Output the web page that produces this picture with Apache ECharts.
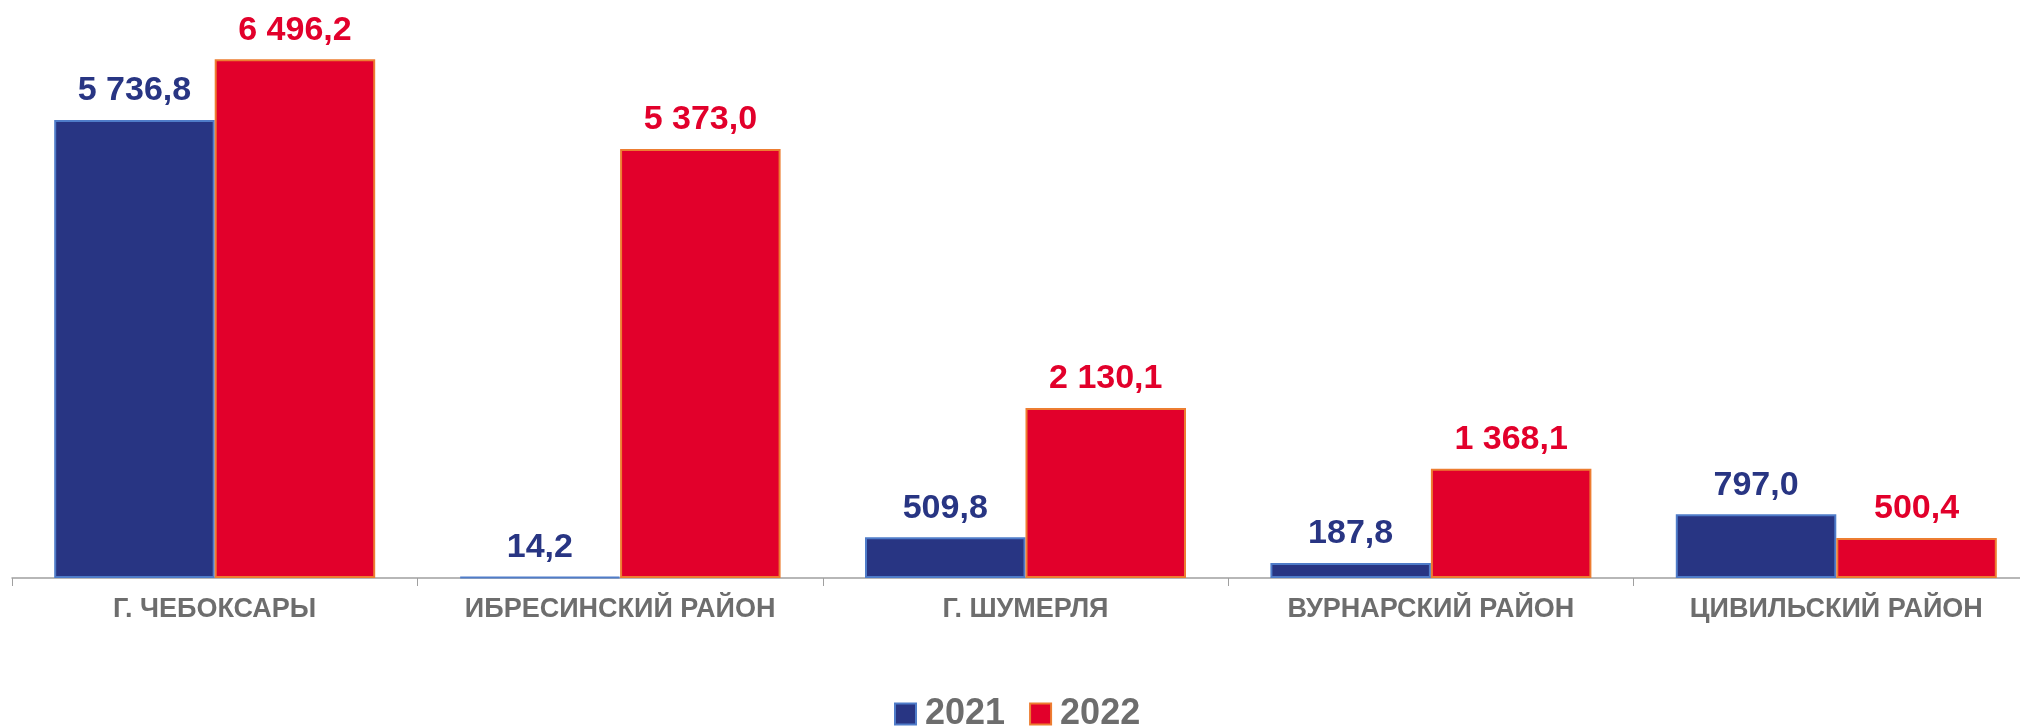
<!DOCTYPE html>
<html>
<head>
<meta charset="utf-8">
<script src="https://cdn.jsdelivr.net/npm/echarts@6/dist/echarts.min.js"></script>
<style>
  html, body { margin: 0; padding: 0; background: #fff; }
  #main { width: 2020px; height: 728px; }
</style>
</head>
<body>
<div id="main"></div>
<script>
// данные
var categories = ["Г. ЧЕБОКСАРЫ", "ИБРЕСИНСКИЙ РАЙОН", "Г. ШУМЕРЛЯ", "ВУРНАРСКИЙ РАЙОН", "ЦИВИЛЬСКИЙ РАЙОН"];
var values2021 = [5736.8, 14.2, 509.8, 187.8, 797.0];
var values2022 = [6496.2, 5373.0, 2130.1, 1368.1, 500.4];
var seriesNames = ["2021", "2022"];

var myChart = echarts.init(document.getElementById("main"));
var font = "'Liberation Sans', Arial, sans-serif";

// 5 736,8
function fmt(v) {
  var s = v.toFixed(1).split(".");
  var intPart = s[0].replace(/\B(?=(\d{3})+(?!\d))/g, " ");
  return intPart + "," + s[1];
}

var option = {
  animation: false,
  backgroundColor: "#ffffff",
  grid: {
    left: 12,
    top: 19,
    width: 2027,
    bottom: 150,
    outerBoundsMode: "none",
    containLabel: false,
  },
  legend: {
    data: seriesNames,
    left: 889,
    top: 691,
    icon: "rect",
    itemWidth: 21,
    itemHeight: 21,
    itemGap: 24,
    textStyle: {
      fontSize: 36,
      fontWeight: "bold",
      fontFamily: font,
      color: "#6d6d6d",
      padding: [0, 0, 0, 4],
    },
  },
  xAxis: {
    type: "category",
    data: categories,
    axisLine: { lineStyle: { color: "#a0a0a0", width: 1.5 } },
    axisTick: { show: true, length: 8, lineStyle: { color: "#a0a0a0" } },
    axisLabel: {
      fontSize: 27,
      fontWeight: "bold",
      fontFamily: font,
      color: "#6d6d6d",
      margin: 18,
    },
  },
  yAxis: {
    type: "value",
    min: 0,
    max: 7000,
    show: false,
    splitLine: { show: false },
  },
  series: [
    {
      name: seriesNames[0],
      type: "bar",
      data: values2021,
      barWidth: 160.5,
      barGap: "0%",
      itemStyle: {
        color: "#283583",
        borderColor: "#4f7cc9",
        borderWidth: 2,
      },
      label: {
        show: true,
        position: "top",
        distance: 12,
        fontSize: 34,
        fontWeight: "bold",
        fontFamily: font,
        color: "#283583",
        formatter: function (p) { return fmt(p.value); },
      },
    },
    {
      name: seriesNames[1],
      type: "bar",
      data: values2022,
      barWidth: 160.5,
      barGap: "0%",
      itemStyle: {
        color: "#e2002b",
        borderColor: "#ed7d31",
        borderWidth: 2,
      },
      label: {
        show: true,
        position: "top",
        distance: 12,
        fontSize: 34,
        fontWeight: "bold",
        fontFamily: font,
        color: "#e2002b",
        formatter: function (p) { return fmt(p.value); },
      },
    },
  ],
};

myChart.setOption(option);
</script>
</body>
</html>
